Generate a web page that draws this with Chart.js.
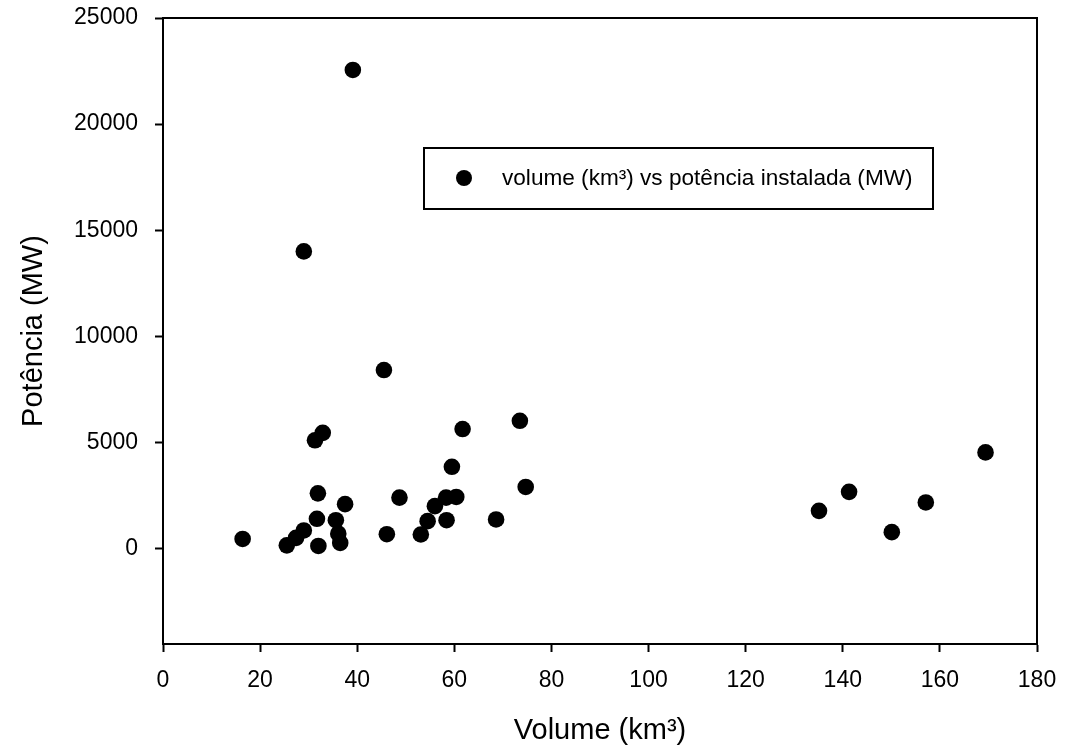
<!DOCTYPE html>
<html>
<head>
<meta charset="utf-8">
<script src="https://cdn.jsdelivr.net/npm/chart.js@4"></script>
<style>
  html, body { margin: 0; padding: 0; background: #fff; }
  #wrap { width: 1079px; height: 748px; }
</style>
</head>
<body>
<div id="wrap"><canvas id="c" width="1079" height="748"></canvas></div>
<script>
// Data
const volumeKm3 = [16.4, 25.5, 27.4, 29.0, 29.0, 31.3, 32.9, 31.9, 31.7, 32.0,
                   35.6, 36.1, 36.5, 37.5, 39.1, 45.5, 46.1, 48.7, 53.1, 54.5,
                   56.0, 58.3, 60.4, 58.4, 59.5, 61.7, 68.6, 73.5, 74.7,
                   135.1, 141.3, 150.1, 157.1, 169.4];
const potenciaMW = [450, 150, 500, 850, 14000, 5100, 5450, 2600, 1400, 120,
                    1335, 700, 260, 2090, 22550, 8410, 675, 2400, 660, 1290,
                    1995, 2400, 2430, 1335, 3850, 5630, 1370, 6020, 2900,
                    1775, 2670, 770, 2170, 4530];
const xTicks = [0, 20, 40, 60, 80, 100, 120, 140, 160, 180];
const yTicks = [0, 5000, 10000, 15000, 20000, 25000];
const seriesLabel = 'volume (km³) vs potência instalada (MW)';
const xTitle = 'Volume (km³)';
const yTitle = 'Potência (MW)';

const FONT = '"Liberation Sans", Arial, sans-serif';

const frameAndLegend = {
  id: 'frameAndLegend',
  afterDraw(chart) {
    const {ctx, chartArea: a} = chart;
    ctx.save();
    ctx.strokeStyle = '#000';
    ctx.lineWidth = 2;
    ctx.beginPath();
    ctx.moveTo(a.left, a.top);
    ctx.lineTo(a.right, a.top);
    ctx.lineTo(a.right, a.bottom);
    ctx.stroke();
    // legend box
    ctx.lineWidth = 2;
    ctx.strokeRect(424, 148, 509, 61);
    ctx.fillStyle = '#000';
    ctx.beginPath();
    ctx.arc(464, 178, 8, 0, Math.PI * 2);
    ctx.fill();
    ctx.font = '22.6px ' + FONT;
    ctx.textBaseline = 'middle';
    ctx.textAlign = 'left';
    ctx.fillText(chart.data.datasets[0].label, 502, 179);
    ctx.restore();
  }
};

new Chart(document.getElementById('c'), {
  type: 'scatter',
  data: {
    datasets: [{
      label: seriesLabel,
      data: volumeKm3.map((v, i) => ({x: v, y: potenciaMW[i]})),
      backgroundColor: '#000',
      borderColor: '#000',
      borderWidth: 0,
      pointRadius: 8.3,
      pointHoverRadius: 8.3
    }]
  },
  options: {
    responsive: false,
    animation: false,
    layout: { padding: { top: 18, right: 42, left: 0, bottom: 0 } },
    plugins: { legend: { display: false }, tooltip: { enabled: false } },
    scales: {
      x: {
        type: 'linear',
        min: 0, max: 180,
        afterBuildTicks: s => { s.ticks = xTicks.map(v => ({value: v})); },
        afterFit: s => { s.height = 104; s.paddingLeft = 0; s.paddingRight = 0; },
        grid: { drawOnChartArea: false, tickLength: 8, tickWidth: 2, tickColor: '#000' },
        border: { display: true, color: '#000', width: 2 },
        ticks: { color: '#000', font: { size: 23, family: FONT }, padding: 15, maxRotation: 0 },
        title: { display: true, text: xTitle, color: '#000', font: { size: 29, family: FONT }, padding: { top: 0, bottom: 0 } }
      },
      y: {
        type: 'linear',
        min: -4500, max: 25000,
        afterBuildTicks: s => { s.ticks = yTicks.map(v => ({value: v})); },
        afterFit: s => { s.width = 163; s.paddingTop = 0; s.paddingBottom = 0; },
        grid: { drawOnChartArea: false, tickLength: 8, tickWidth: 2, tickColor: '#000' },
        border: { display: true, color: '#000', width: 2 },
        ticks: { color: '#000', font: { size: 23, family: FONT }, padding: 17, callback: v => String(v) },
        title: { display: true, text: yTitle, color: '#000', font: { size: 29, family: FONT }, padding: { top: 17, bottom: 0 } }
      }
    }
  },
  plugins: [frameAndLegend]
});
</script>
</body>
</html>
